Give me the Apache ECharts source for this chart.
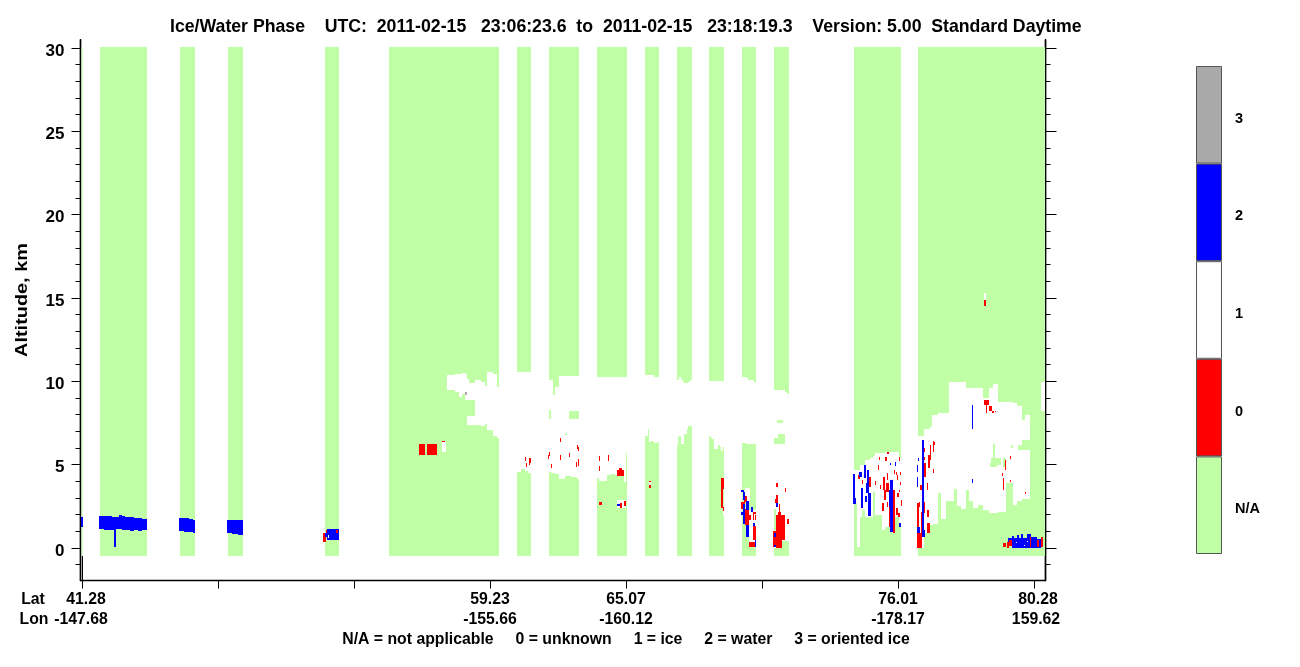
<!DOCTYPE html>
<html><head><meta charset="utf-8">
<style>html,body{margin:0;padding:0;background:#fff}#c{width:1300px;height:667px}</style>
<script src="https://cdn.jsdelivr.net/npm/echarts@6/dist/echarts.min.js"></script>
</head><body><div id="c"></div>
<script>
const titleText = 'Ice/Water Phase    UTC:  2011-02-15   23:06:23.6  to  2011-02-15   23:18:19.3    Version: 5.00  Standard Daytime';
const footerText = 'N/A = not applicable     0 = unknown     1 = ice     2 = water     3 = oriented ice';
const legendClasses = ['N/A','0','1','2','3'];
const legendColors = ['#c1ffa6','#ff0000','#ffffff','#0000ff','#a9a9a9'];
const altMajor = [0,5,10,15,20,25,30];
const altMinor = [-1,0,1,2,3,4,5,6,7,8,9,10,11,12,13,14,15,16,17,18,19,20,21,22,23,24,25,26,27,28,29,30];
const profileTicks = [82,218,354,490,626,762,898,1034];
const labelledProfiles = [490,626,898];
const latLabels = ['59.23','65.07','76.01'];
const lonLabels = ['-155.66','-160.12','-178.17'];
const KM_PER_BIN = 0.06;
// every rectangle: [profile start, profile end, low altitude bin, high altitude bin]
const naColumns = [[81.5,82.5,-8,501],[100,147,-8,501],[180,195,-8,501],[228,243,-8,501],[325,339,-8,501],[389,499,-8,501],[517,531,-8,501],[549,579,-8,501],[597,627,-8,501],[645,659,-8,501],[677,692,-8,501],[709,724,-8,501],[742,756,-8,501],[774,789,-8,501],[854,901,-8,501],[918,1045,-8,501]];
const iceCells = [
 [447,455,158,173],[455,459,156,174],[459,462,151,174],[462,465,154,175],[465,467,148,174],[467,469,148,169],[469,475,148,165],[475,481,123,168],[467,475,123,132],[481,485,122,166],[485,487,124,162],[487,493,118,176],[493,497,112,174],[497,499,110,161],[442,446,96,107],
 [517,521,76,176],[521,525,79,176],[525,528,77,176],[528,531,75,176],
 [549,551,76,168],[551,553,75,168],[553,555,75,153],[555,559,74,161],[559,565,69,172],[565,571,72,172],[571,577,71,172],[577,579,69,172],
 [597,599,70,171],[599,607,67,171],[607,611,73,171],[611,615,74,171],[615,624,73,171],[624,626,66,171],[626,627,95,171],[617,626,40,48],
 [645,648,112,173],[648,649,119,173],[649,651,106,173],[651,654,107,173],[654,657,105,171],[657,659,106,171],[649,651,63,66],
 [677,678,103,168],[678,679,111,168],[679,681,112,171],[681,683,104,168],[683,684,104,166],[684,687,114,165],[687,688,119,165],[688,690,122,166],[690,692,122,168],
 [709,711,112,167],[711,712,110,167],[712,714,109,167],[714,718,99,167],[718,720,103,167],[720,721,101,167],[721,723,97,167],[723,724,101,167],[723,724,33,37],
 [742,746,105,171],[746,748,104,170],[748,754,104,168],[754,755,104,166],[755,756,104,165],[749,756,6,38],[745,750,46,60],
 [774,782,0,158],[782,785,7,158],[785,787,7,156],[787,789,7,154],
 [854,857,45,78],[857,860,1,78],[860,862,31,83],[862,865,38,83],[865,870,31,88],[870,873,31,90],[873,875,56,92],[875,882,33,95],[882,885,18,95],[885,890,21,96],[890,895,16,96],[895,899,31,96],[899,901,25,91],
 [918,924,0,112],[924,930,15,119],[930,932,23,121],[932,933,23,133],[933,938,24,133],[938,941,55,135],[941,946,29,135],[946,949,47,135],[949,954,47,166],[954,957,59,166],[957,961,42,166],[961,966,39,166],[966,969,58,160],[969,973,47,160],[973,978,40,160],[978,983,43,160],[983,989,38,150],[989,993,35,160],[993,998,35,164],[998,1006,36,146],[1006,1013,65,146],[1013,1017,43,145],[1017,1022,47,142],[1022,1025,49,128],[1025,1030,49,133],[1041,1045,137,166],[984,986,248,255]
];
const naHoles = [[549,551,129,138],[569,579,129,137],[565,567,113,115],[777,783,125,128],[778,785,104,114],[774,778,104,110],[774,776,17,39],[993,995,90,104],[991,1001,83,90],[990,997,81,85],[1003,1006,81,90],[1011,1013,100,103],[1018,1024,98,103],[1022,1030,98,108]];
const orientedCells = [[465,467,153,156]];
const unknownCells = [
 [419,425,93,104],[427,437,93,104],[442,445,106,107],[323,326,6,15],
 [525,526,87,91],[526,527,81,85],[529,531,85,90],[529,530,83,85],[549,550,92,96],[548,549,89,93],[551,552,80,84],[560,561,88,93],[560,561,106,110],[569,570,91,95],[577,578,99,103],[578,579,97,101],[576,577,81,86],[578,579,82,89],[599,600,87,92],[608,609,87,93],[599,600,77,82],
 [617,624,72,78],[619,622,78,80],[599,602,43,46],[620,622,40,45],[624,626,42,47],[649,651,66,67],[649,651,60,63],
 [721,724,59,70],[721,723,40,59],[723,724,37,41],
 [741,745,39,46],[744,747,46,52],[745,749,23,39],[749,751,28,33],[753,756,34,36],[753,754,28,34],[755,756,28,33],[753,756,8,22],[749,755,1,6],
 [776,778,61,65],[785,786,56,60],[776,778,45,53],[775,776,45,49],[779,780,36,44],[778,781,33,36],[776,785,17,33],[787,789,24,29],[776,782,0,17],[782,785,8,17],[773,776,1,17],
 [853,854,56,61],[858,860,69,73],[862,863,64,68],[869,871,61,71],[875,876,63,67],[879,880,88,91],[878,879,78,83],[880,881,59,63],[883,885,58,71],[882,884,37,45],[884,886,48,58],[885,887,87,91],[887,889,94,96],[887,888,68,75],[886,889,56,65],[887,888,41,46],[889,890,21,41],[893,895,15,58],[894,895,74,78],[896,897,73,76],[899,900,87,91],[897,898,68,73],[900,901,73,76],[900,901,63,66],[899,900,56,58],[897,899,51,55],[896,898,33,40],[898,900,31,35],[901,902,42,48],
 [917,922,0,15],[917,919,21,45],[919,920,41,46],[920,922,58,63],[921,922,15,36],[924,925,35,46],[924,925,96,100],[924,925,88,91],[924,926,71,85],[927,928,58,65],[928,930,80,93],[930,931,96,101],[933,934,96,107],[934,935,103,106],[933,934,75,79],[927,929,31,38],[927,930,15,25],[930,931,88,103],
 [984,989,143,148],[986,987,135,143],[989,992,137,142],[992,994,135,137],[995,996,136,137],[1010,1011,89,92],[1005,1006,78,88],[1002,1003,72,75],[1003,1004,58,70],[1010,1011,66,68],[1025,1026,54,56],[984,986,242,248]
];
const waterCells = [
 [81,83,21,31],[99,104,19,32],[104,108,18,32],[108,112,18,32],[112,116,18,31],[116,119,19,31],[119,122,19,33],[122,125,18,32],[125,130,18,31],[130,134,17,31],[134,138,18,30],[138,142,17,30],[142,147,18,29],[114,116,1,19],
 [179,184,17,30],[184,189,16,30],[189,193,16,29],[193,195,15,28],[227,232,15,28],[232,238,14,28],[238,243,13,28],[325,327,11,15],[327,339,8,19],
 [741,744,56,58],[743,745,48,56],[743,745,24,44],[746,749,38,47],[746,749,11,23],[751,753,36,41],[753,755,22,25],[755,756,1,8],[741,743,33,36],[774,776,11,15],[776,778,41,45],[774,776,1,3],[617,620,42,44],
 [853,855,44,74],[855,856,44,50],[859,862,71,76],[861,863,40,60],[864,866,70,83],[865,867,46,52],[866,869,55,65],[867,869,65,78],[868,871,32,55],[890,893,16,68],[889,893,41,58],[895,896,82,86],[899,901,21,25],[890,891,83,85],
 [922,924,11,108],[917,918,76,83],[917,918,61,71],[918,919,87,90],[917,920,15,21],[923,925,11,18],[972,973,119,143],[972,973,65,69],
 [1008,1013,2,10],[1012,1014,0,12],[1014,1017,0,10],[1017,1019,0,13],[1019,1021,0,10],[1021,1023,0,14],[1023,1027,0,10],[1027,1031,0,14],[1031,1037,0,11],[1037,1041,0,9]
];
const waterOverlayUnknown = [[1003,1006,1,5],[1007,1009,0,6],[1009,1012,2,8],[1030,1031,1,11],[1041,1043,1,11],[1037,1039,1,8],[336,338,15,18],[326,327,15,18]];
const waterSpecks = [[1024,1025,2,3],[1027,1028,6,7],[328,329,10,13],[1016,1017,5,6]];
const firstTickExtension = [[82,83,-32,-8]];

const xMin = 80.5, xMax = 1045.5, yMin = -1.95, yMax = 30.5;
const FONT = '"Liberation Sans", Arial, sans-serif';

function cellSeries(name, data, color, z) {
  return {
    type: 'custom', name, xAxisIndex: 0, yAxisIndex: 0, z, silent: true, animation: false,
    encode: { x: [0, 1] },
    data,
    renderItem(params, api) {
      const a = api.coord([api.value(0), api.value(2) * KM_PER_BIN]);
      const b = api.coord([api.value(1), api.value(3) * KM_PER_BIN]);
      return { type: 'rect', shape: { x: a[0], y: b[1], width: b[0] - a[0], height: a[1] - b[1] }, style: { fill: color } };
    }
  };
}
function yAx(position, values, len, labelled) {
  return {
    type: 'value', gridIndex: 0, position, min: yMin, max: yMax, splitLine: { show: false },
    axisLine: { show: true, onZero: false, lineStyle: { color: '#000', width: 1.4 } },
    axisTick: { show: true, length: len, customValues: values, lineStyle: { color: '#000', width: 1 } },
    axisLabel: labelled ? { show: true, customValues: altMajor, margin: 16, verticalAlign: 'top', lineHeight: 6, fontFamily: FONT, fontWeight: 'bold', fontSize: 17, color: '#000' } : { show: false }
  };
}
const latLonText = (t, x, y) => ({ type: 'text', x, y, style: { text: t, fontFamily: FONT, fontWeight: 'bold', fontSize: 15.8, fill: '#000', textAlign: 'center', textVerticalAlign: 'middle' } });

const chart = echarts.init(document.getElementById('c'), null, { renderer: 'canvas' });
chart.setOption({
  animation: false, backgroundColor: '#fff',
  title: { text: titleText, left: 165, top: 13, textStyle: { fontFamily: FONT, fontWeight: 'bold', fontSize: 17.7, color: '#000' } },
  grid: [
    { left: xMin, width: xMax - xMin, top: 39.67, height: 540.83, containLabel: false },
    { left: 1196, width: 26, top: 66, height: 488, containLabel: false }
  ],
  xAxis: [
    { type: 'value', gridIndex: 0, min: xMin, max: xMax, position: 'bottom', splitLine: { show: false },
      axisLine: { show: true, onZero: false, lineStyle: { color: '#000', width: 1.4 } },
      axisTick: { show: true, length: 8, customValues: profileTicks, lineStyle: { color: '#000', width: 1 } },
      axisLabel: { show: true, customValues: labelledProfiles, margin: 9, lineHeight: 20, fontFamily: FONT, fontWeight: 'bold', fontSize: 15.8, color: '#000',
        formatter: v => { const i = labelledProfiles.indexOf(v); return i < 0 ? '' : latLabels[i] + '\n' + lonLabels[i]; } } },
    { type: 'value', gridIndex: 1, min: 0, max: 1, show: false }
  ],
  yAxis: [
    yAx('left', altMajor, 9, true), yAx('left', altMinor, 5, false), yAx('right', altMajor, 11, false), yAx('right', altMinor, 5, false),
    { type: 'category', gridIndex: 1, position: 'right', data: legendClasses, axisLine: { show: false }, axisTick: { show: false },
      axisLabel: { margin: 13, verticalAlign: 'top', lineHeight: 8, fontFamily: FONT, fontWeight: 'bold', fontSize: 14.5, color: '#000' } }
  ],
  series: [
    cellSeries('N/A', naColumns, legendColors[0], 2),
    cellSeries('ice', iceCells, legendColors[2], 3),
    cellSeries('N/A holes', naHoles, legendColors[0], 4),
    cellSeries('oriented ice', orientedCells, legendColors[4], 5),
    cellSeries('unknown', unknownCells, legendColors[1], 6),
    cellSeries('water', waterCells, legendColors[3], 7),
    cellSeries('unknown over water', waterOverlayUnknown, legendColors[1], 8),
    cellSeries('ice specks', waterSpecks, legendColors[2], 9),
    cellSeries('first tick', firstTickExtension, '#000', 10),
    { type: 'bar', xAxisIndex: 1, yAxisIndex: 4, barWidth: '100%', silent: true, animation: false,
      data: legendClasses.map((c, i) => ({ value: 1, itemStyle: { color: legendColors[i], borderColor: '#555', borderWidth: 1 } })) }
  ],
  graphic: [
    { type: 'text', x: 22, y: 300, rotation: Math.PI / 2, scaleX: 1.17, style: { text: 'Altitude, km', fontFamily: FONT, fontWeight: 'bold', fontSize: 17, fill: '#000', textAlign: 'center', textVerticalAlign: 'middle' } },
    latLonText('Lat', 33, 600), latLonText('Lon', 34, 620),
    latLonText('41.28', 86, 600), latLonText('-147.68', 81, 620),
    latLonText('80.28', 1038, 600), latLonText('159.62', 1036, 620),
    { type: 'text', x: 626, y: 640, style: { text: footerText, fontFamily: FONT, fontWeight: 'bold', fontSize: 15.8, fill: '#000', textAlign: 'center', textVerticalAlign: 'middle' } }
  ]
});
</script></body></html>
